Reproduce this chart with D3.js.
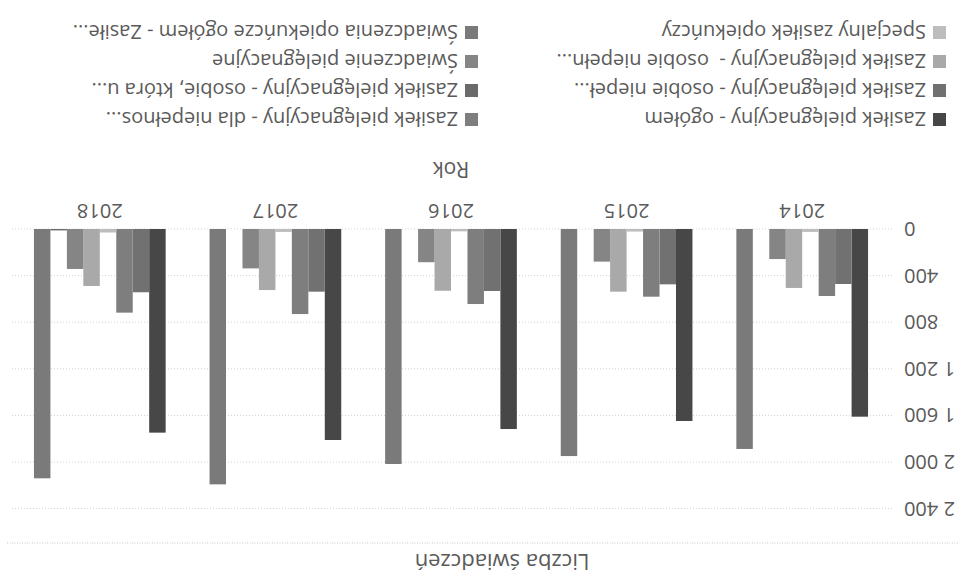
<!DOCTYPE html>
<html><head><meta charset="utf-8">
<script src="https://cdn.jsdelivr.net/npm/d3@7"></script>
<style>
html,body{margin:0;padding:0;background:#fff;}
svg{display:block;}
text{font-family:"Open Sans",sans-serif;fill:#5a5a5a;white-space:pre;}
</style></head><body>
<svg id="chart" width="962" height="578"></svg>
<script>
const title = "Liczba świadczeń";
const xTitle = "Rok";
const years = ["2014","2015","2016","2017","2018"];
const seriesNames = [
  "Zasiłek pielęgnacyjny - ogółem",
  "Zasiłek pielęgnacyjny - osobie niepeł...",
  "Zasiłek pielęgnacyjny - dla niepełnos...",
  "Specjalny zasiłek opiekuńczy",
  "Zasiłek pielęgnacyjny -  osobie niepełn...",
  "Świadczenie pielęgnacyjne",
  "Zasiłek pielęgnacyjny - osobie, która u...",
  "Świadczenia opiekuńcze ogółem - Zasiłe..."
];
const seriesColors = ["#474747","#717171","#7e7e7e","#bdbdbd","#a9a9a9","#858585","#6a6a6a","#7a7a7a"];
const values_ogolem      = [1611,1648,1717,1811,1748];
const values_niepel      = [472,475,532,538,543];
const values_dlaNiepeln  = [575,581,644,730,718];
const values_specjalny   = [25,22,20,25,30];
const values_niepeln     = [506,538,530,524,489];
const values_swiadczenie = [258,280,285,338,343];
const values_ktora       = [0,0,0,0,12];
const values_opiekuncze  = [1888,1949,2017,2192,2140];
const allValues = [values_ogolem,values_niepel,values_dlaNiepeln,values_specjalny,values_niepeln,values_swiadczenie,values_ktora,values_opiekuncze];
const yTicks = [0,400,800,1200,1600,2000,2400];
const legendColumns = [
  ["Zasiłek pielęgnacyjny - ogółem","Zasiłek pielęgnacyjny - osobie niepeł...","Zasiłek pielęgnacyjny -  osobie niepełn...","Specjalny zasiłek opiekuńczy"],
  ["Zasiłek pielęgnacyjny - dla niepełnos...","Zasiłek pielęgnacyjny - osobie, która u...","Świadczenie pielęgnacyjne","Świadczenia opiekuńcze ogółem - Zasiłe..."]
];

const W = 962, H = 578;
const svg = d3.select("#chart");
const root = svg.append("g").attr("transform", `rotate(180, ${W/2}, ${H/2})`);

const locale = d3.formatLocale({decimal:",", thousands:" ", grouping:[3], currency:["","zł"]});
const fmt = locale.format(",d");

const x0 = d3.scaleBand().domain(years).range([72, 950]).paddingInner(0.25).paddingOuter(0.125);
const x1 = d3.scaleBand().domain(seriesNames).range([0, x0.bandwidth()]).padding(0);
const y = d3.scaleLinear().domain([0, 2400]).range([349, 69.4]);
const color = d3.scaleOrdinal().domain(seriesNames).range(seriesColors);

// title
root.append("text").attr("x", 460).attr("y", 24).attr("text-anchor","middle")
  .attr("font-size", 22).attr("fill","#444").text(title);
// separator line
root.append("line").attr("x1", 4).attr("x2", 956).attr("y1", 35).attr("y2", 35)
  .attr("stroke", "#c8c8c8").attr("stroke-dasharray", "1,1.5");

// grid
root.append("g").selectAll("line").data(yTicks).join("line")
  .attr("x1", 70).attr("x2", 952)
  .attr("y1", d => y(d)).attr("y2", d => y(d))
  .attr("stroke", "#d2d2d2").attr("stroke-dasharray", "1,2");

// y axis
const yAxis = d3.axisLeft(y).tickValues(yTicks).tickFormat(fmt).tickSize(0).tickPadding(0);
const gy = root.append("g").attr("transform", "translate(58,0)").call(yAxis);
gy.select(".domain").remove();
gy.selectAll("text").attr("font-size", 20).attr("fill", "#5a5a5a").attr("font-family", "Open Sans");

// x axis
const xAxis = d3.axisBottom(x0).tickSize(0).tickPadding(0);
const gx = root.append("g").attr("transform", "translate(0,355)").call(xAxis);
gx.select(".domain").remove();
gx.selectAll("text").attr("font-size", 20).attr("fill", "#5a5a5a").attr("font-family", "Open Sans").attr("dy", "0.95em");

root.append("text").attr("x", (72+950)/2).attr("y", 416).attr("text-anchor","middle")
  .attr("font-size", 21).attr("fill","#666").text(xTitle);

// bars
const groups = root.append("g").selectAll("g").data(years).join("g")
  .attr("transform", d => `translate(${x0(d)},0)`);
groups.selectAll("rect")
  .data((yr, i) => seriesNames.map((s, j) => ({s, v: allValues[j][i]})))
  .join("rect")
  .attr("x", d => x1(d.s))
  .attr("width", x1.bandwidth())
  .attr("y", d => y(d.v))
  .attr("height", d => y(0) - y(d.v))
  .attr("fill", d => color(d.s));

// legend
const legX = [16, 484];
const legY = [459, 488, 517, 546];
legendColumns.forEach((col, ci) => {
  col.forEach((name, ri) => {
    const g = root.append("g").attr("transform", `translate(${legX[ci]},${legY[ri]})`);
    g.append("rect").attr("x", 0).attr("y", -7).attr("width", 13).attr("height", 13).attr("fill", color(name));
    g.append("text").attr("x", 20).attr("y", 0).attr("dy", "0.35em").attr("font-size", 20).attr("fill","#555").text(name);
  });
});
</script>
</body></html>
